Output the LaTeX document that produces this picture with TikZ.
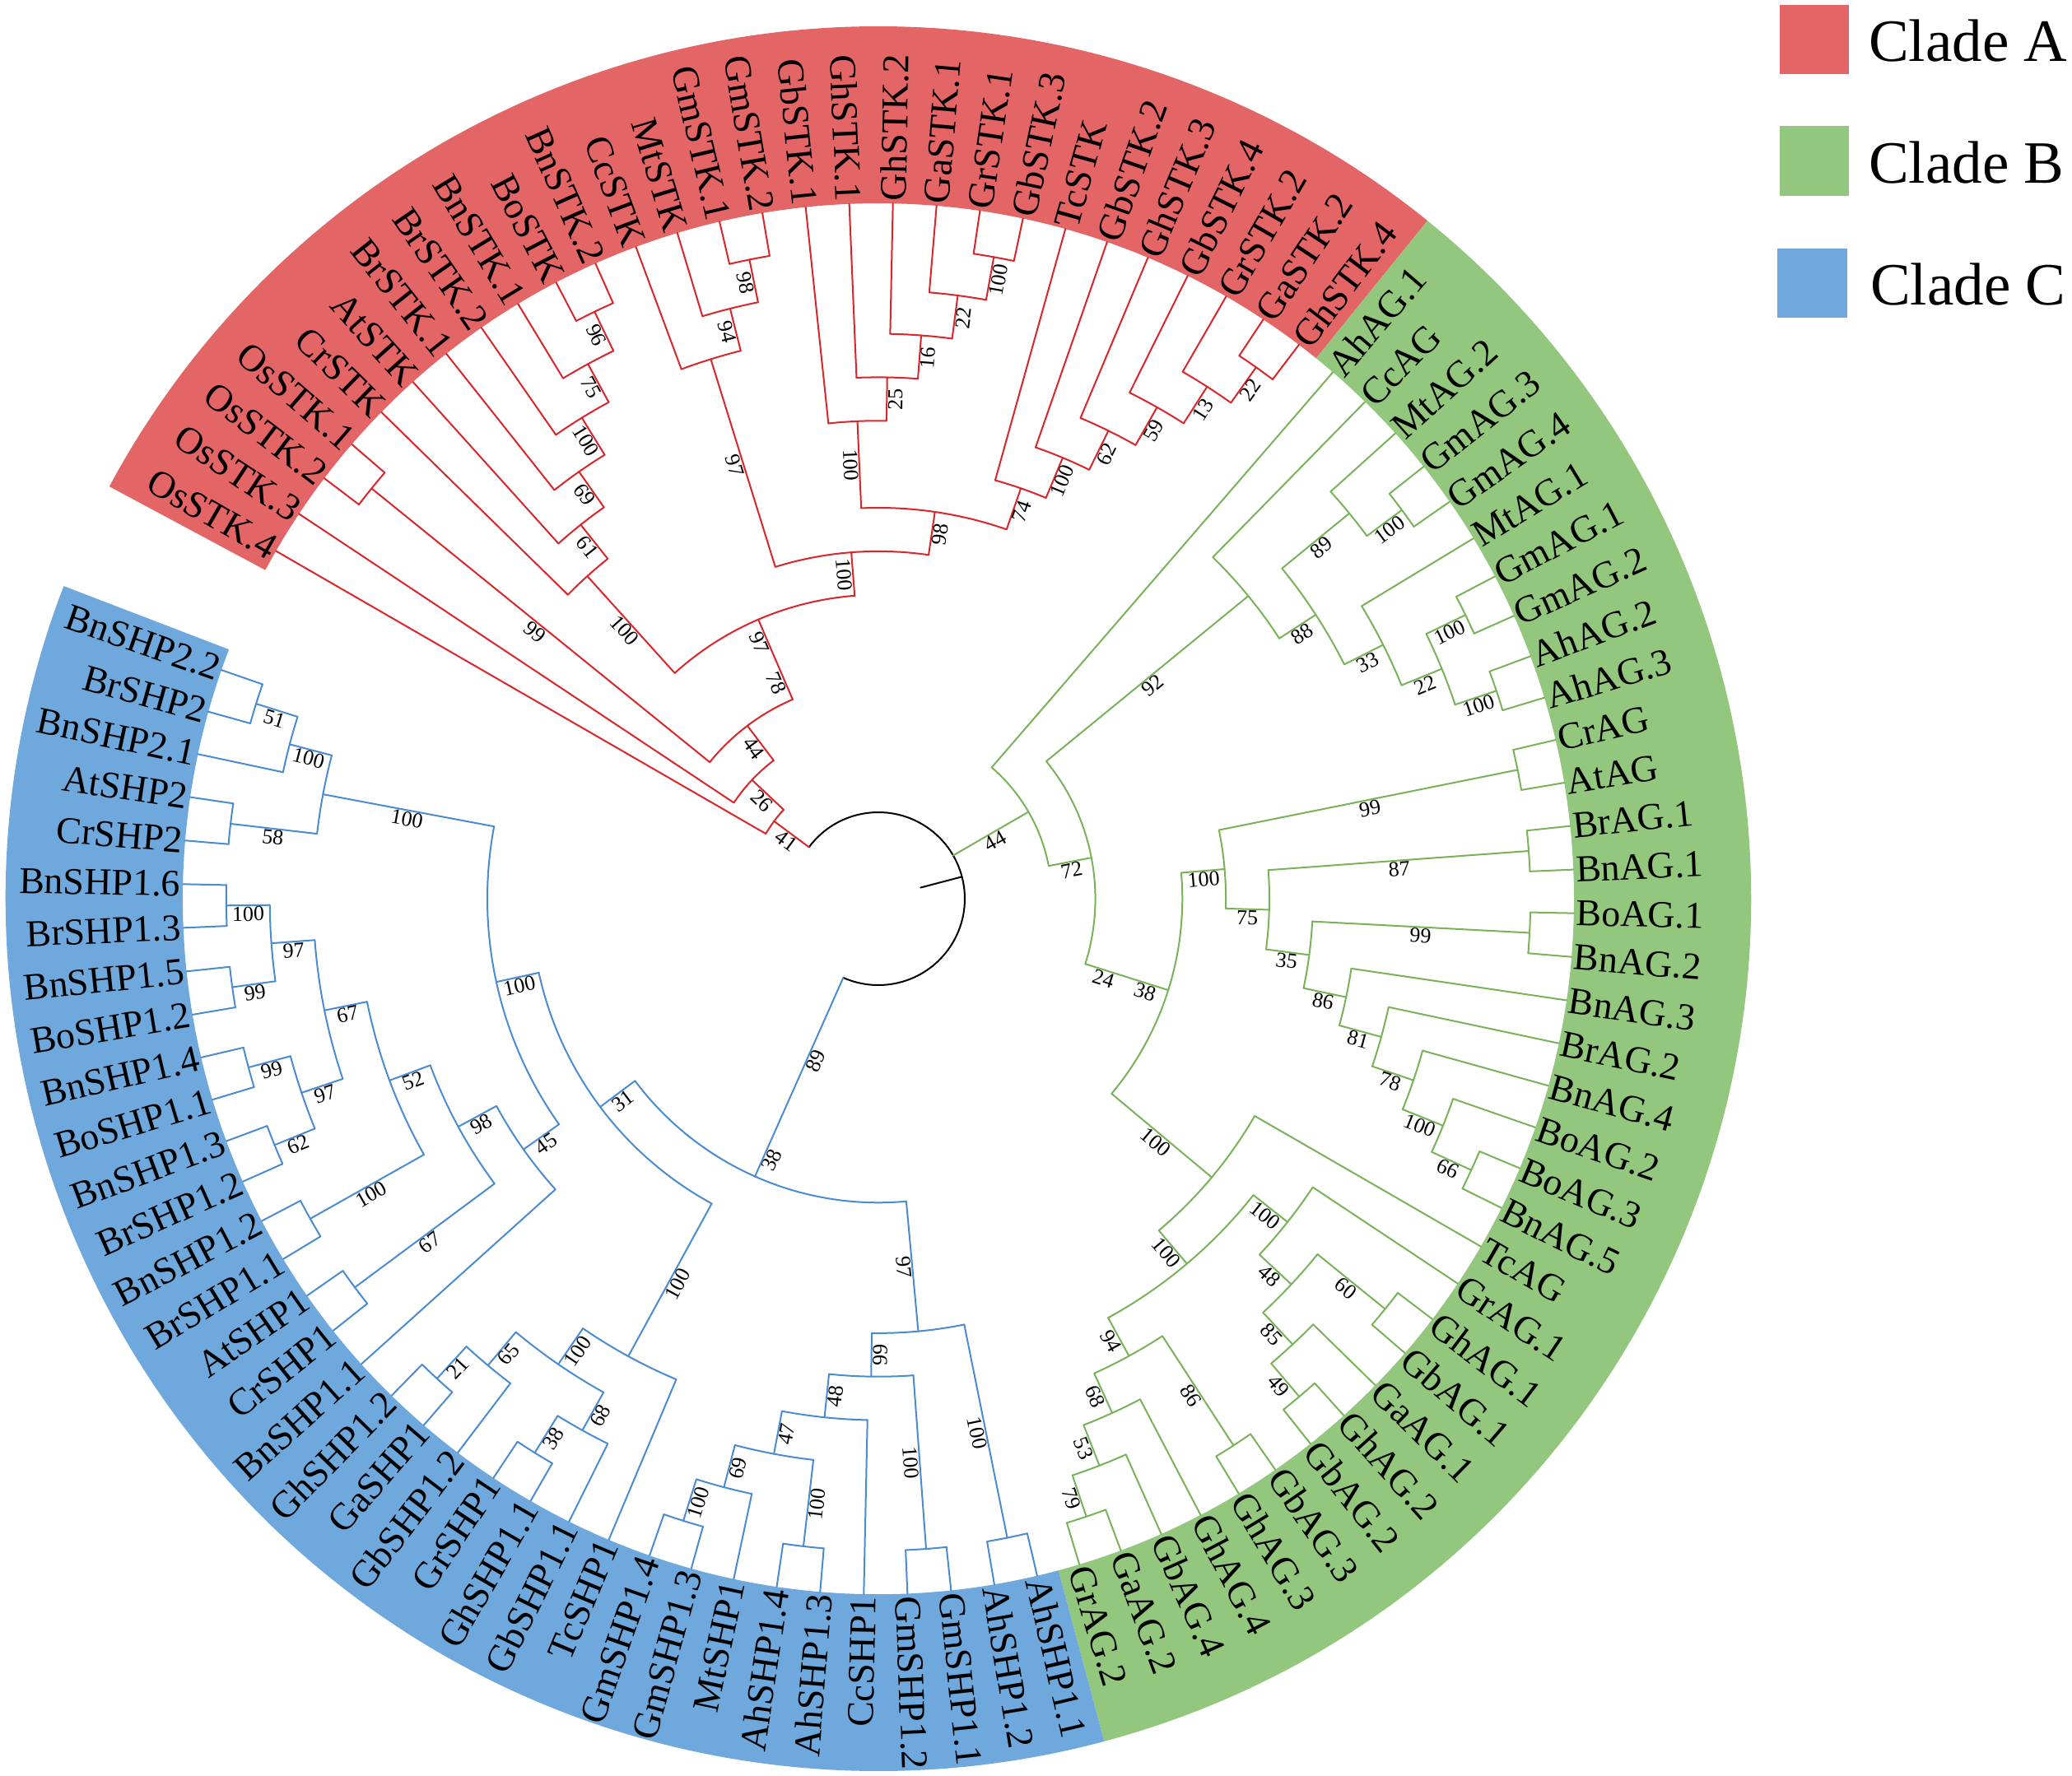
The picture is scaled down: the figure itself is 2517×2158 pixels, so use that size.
\documentclass[tikz,border=0pt]{standalone}
\usepackage{fontspec}
\setmainfont{Liberation Serif}

\definecolor{bandA}{HTML}{E46565}
\definecolor{bandB}{HTML}{93C77D}
\definecolor{bandC}{HTML}{6FA8DC}
\definecolor{lineA}{HTML}{D8262B}
\definecolor{lineB}{HTML}{78B35A}
\definecolor{lineC}{HTML}{4A8CCF}

\tikzset{
  branch/.style={line width=2pt, line cap=round},
  leaflbl/.style={font=\fontsize{46}{50}\selectfont, inner sep=3pt},
  bootlbl/.style={font=\fontsize{26}{28}\selectfont, inner sep=1.5pt},
  legtxt/.style={font=\fontsize{73}{80}\selectfont, inner sep=0pt}
}

% radius of a tree level (root = 0, tips = 14)
\newcommand\levrad[1]{105+52.86*(#1)}
\newcommand\brcol{lineA}
\newcounter{bootno}

% support value beside a stem
\newcommand\bootval[3]{%
  \pgfmathtruncatemacro\lblside{cos(#1)>0}%
  \ifnum\lblside=1 \pgfmathsetmacro\lblrot{#1}\else\pgfmathsetmacro\lblrot{#1+180}\fi
  \stepcounter{bootno}%
  \node[bootlbl, rotate=\lblrot, anchor=north] (bs\thebootno) at (#1:#2) {#3};}

% tip label
\newcommand\leaf[3]{%
  \pgfmathsetmacro\lfang{150-3.6*#2}%
  \expandafter\xdef\csname ang#1\endcsname{\lfang}%
  \expandafter\xdef\csname lev#1\endcsname{14}%
  \expandafter\gdef\csname sup#1\endcsname{}%
  \pgfmathtruncatemacro\lblside{cos(\lfang)>0}%
  \ifnum\lblside=1
    \node[leaflbl, rotate=\lfang, anchor=west] (#1) at (\lfang:845) {#3};%
  \else
    \pgfmathsetmacro\lfrot{\lfang+180}%
    \node[leaflbl, rotate=\lfrot, anchor=east] (#1) at (\lfang:845) {#3};%
  \fi}

% radial stem of a child down to its parent level
\newcommand\stem[2]{%
  \edef\stang{\csname ang#1\endcsname}%
  \pgfmathsetmacro\stin{\levrad{#2}}%
  \pgfmathsetmacro\stout{\levrad{\csname lev#1\endcsname}}%
  \draw[branch, draw=\brcol] (\stang:\stin) -- (\stang:\stout);%
  \edef\sttext{\csname sup#1\endcsname}%
  \ifx\sttext\empty\else
    \pgfmathsetmacro\stmid{(\stin+\stout)/2}%
    \bootval{\stang}{\stmid}{\sttext}%
  \fi}

% internal node: id, child 1, child 2, level, support
\newcommand\clade[5]{%
  \edef\cla{\csname ang#2\endcsname}\edef\clb{\csname ang#3\endcsname}%
  \pgfmathsetmacro\clmid{(\cla+\clb)/2}%
  \expandafter\xdef\csname ang#1\endcsname{\clmid}%
  \expandafter\xdef\csname lev#1\endcsname{#4}%
  \expandafter\gdef\csname sup#1\endcsname{#5}%
  \pgfmathsetmacro\clrad{\levrad{#4}}%
  \draw[branch, draw=\brcol] (\cla:\clrad) arc[start angle=\cla, end angle=\clb, radius=\clrad];%
  \stem{#2}{#4}\stem{#3}{#4}}

% extra support value on a long stem
\newcommand\xlbl[3]{%
  \edef\xang{\csname ang#1\endcsname}%
  \pgfmathsetmacro\xrad{\levrad{#2}}%
  \bootval{\xang}{\xrad}{#3}}

\begin{document}
\begin{tikzpicture}[x=1pt, y=1pt]
  \useasboundingbox (-1067,-1066) rectangle (1450,1092);
  \fill[white] (-1067,-1066) rectangle (1450,1092);

  % clade bands
  \fill[bandA] (151.8:845) arc[start angle=151.8, end angle=51, radius=845]
    -- (51:1060) arc[start angle=51, end angle=151.8, radius=1060] -- cycle;
  \fill[bandB] (51:845) arc[start angle=51, end angle=-75, radius=845]
    -- (-75:1060) arc[start angle=-75, end angle=51, radius=1060] -- cycle;
  \fill[bandC] (-75:845) arc[start angle=-75, end angle=-201, radius=845]
    -- (-201:1060) arc[start angle=-201, end angle=-75, radius=1060] -- cycle;

  % clade A tips
  \leaf{OsSTK4}{0}{OsSTK.4}
  \leaf{OsSTK3}{1}{OsSTK.3}
  \leaf{OsSTK2}{2}{OsSTK.2}
  \leaf{OsSTK1}{3}{OsSTK.1}
  \leaf{CrSTK}{4}{CrSTK}
  \leaf{AtSTK}{5}{AtSTK}
  \leaf{BrSTK1}{6}{BrSTK.1}
  \leaf{BrSTK2}{7}{BrSTK.2}
  \leaf{BnSTK1}{8}{BnSTK.1}
  \leaf{BoSTK}{9}{BoSTK}
  \leaf{BnSTK2}{10}{BnSTK.2}
  \leaf{CcSTK}{11}{CcSTK}
  \leaf{MtSTK}{12}{MtSTK}
  \leaf{GmSTK1}{13}{GmSTK.1}
  \leaf{GmSTK2}{14}{GmSTK.2}
  \leaf{GbSTK1}{15}{GbSTK.1}
  \leaf{GhSTK1}{16}{GhSTK.1}
  \leaf{GhSTK2}{17}{GhSTK.2}
  \leaf{GaSTK1}{18}{GaSTK.1}
  \leaf{GrSTK1}{19}{GrSTK.1}
  \leaf{GbSTK3}{20}{GbSTK.3}
  \leaf{TcSTK}{21}{TcSTK}
  \leaf{GbSTK2}{22}{GbSTK.2}
  \leaf{GhSTK3}{23}{GhSTK.3}
  \leaf{GbSTK4}{24}{GbSTK.4}
  \leaf{GrSTK2}{25}{GrSTK.2}
  \leaf{GaSTK2}{26}{GaSTK.2}
  \leaf{GhSTK4}{27}{GhSTK.4}

  % clade B tips
  \leaf{AhAG1}{28}{AhAG.1}
  \leaf{CcAG}{29}{CcAG}
  \leaf{MtAG2}{30}{MtAG.2}
  \leaf{GmAG3}{31}{GmAG.3}
  \leaf{GmAG4}{32}{GmAG.4}
  \leaf{MtAG1}{33}{MtAG.1}
  \leaf{GmAG1}{34}{GmAG.1}
  \leaf{GmAG2}{35}{GmAG.2}
  \leaf{AhAG2}{36}{AhAG.2}
  \leaf{AhAG3}{37}{AhAG.3}
  \leaf{CrAG}{38}{CrAG}
  \leaf{AtAG}{39}{AtAG}
  \leaf{BrAG1}{40}{BrAG.1}
  \leaf{BnAG1}{41}{BnAG.1}
  \leaf{BoAG1}{42}{BoAG.1}
  \leaf{BnAG2}{43}{BnAG.2}
  \leaf{BnAG3}{44}{BnAG.3}
  \leaf{BrAG2}{45}{BrAG.2}
  \leaf{BnAG4}{46}{BnAG.4}
  \leaf{BoAG2}{47}{BoAG.2}
  \leaf{BoAG3}{48}{BoAG.3}
  \leaf{BnAG5}{49}{BnAG.5}
  \leaf{TcAG}{50}{TcAG}
  \leaf{GrAG1}{51}{GrAG.1}
  \leaf{GhAG1}{52}{GhAG.1}
  \leaf{GbAG1}{53}{GbAG.1}
  \leaf{GaAG1}{54}{GaAG.1}
  \leaf{GhAG2}{55}{GhAG.2}
  \leaf{GbAG2}{56}{GbAG.2}
  \leaf{GbAG3}{57}{GbAG.3}
  \leaf{GhAG3}{58}{GhAG.3}
  \leaf{GhAG4}{59}{GhAG.4}
  \leaf{GbAG4}{60}{GbAG.4}
  \leaf{GaAG2}{61}{GaAG.2}
  \leaf{GrAG2}{62}{GrAG.2}

  % clade C tips
  \leaf{AhSHP11}{63}{AhSHP1.1}
  \leaf{AhSHP12}{64}{AhSHP1.2}
  \leaf{GmSHP11}{65}{GmSHP1.1}
  \leaf{GmSHP12}{66}{GmSHP1.2}
  \leaf{CcSHP1}{67}{CcSHP1}
  \leaf{AhSHP13}{68}{AhSHP1.3}
  \leaf{AhSHP14}{69}{AhSHP1.4}
  \leaf{MtSHP1}{70}{MtSHP1}
  \leaf{GmSHP13}{71}{GmSHP1.3}
  \leaf{GmSHP14}{72}{GmSHP1.4}
  \leaf{TcSHP1}{73}{TcSHP1}
  \leaf{GbSHP11}{74}{GbSHP1.1}
  \leaf{GhSHP11}{75}{GhSHP1.1}
  \leaf{GrSHP1}{76}{GrSHP1}
  \leaf{GbSHP12}{77}{GbSHP1.2}
  \leaf{GaSHP1}{78}{GaSHP1}
  \leaf{GhSHP12}{79}{GhSHP1.2}
  \leaf{BnSHP11}{80}{BnSHP1.1}
  \leaf{CrSHP1}{81}{CrSHP1}
  \leaf{AtSHP1}{82}{AtSHP1}
  \leaf{BrSHP11}{83}{BrSHP1.1}
  \leaf{BnSHP12}{84}{BnSHP1.2}
  \leaf{BrSHP12}{85}{BrSHP1.2}
  \leaf{BnSHP13}{86}{BnSHP1.3}
  \leaf{BoSHP11}{87}{BoSHP1.1}
  \leaf{BnSHP14}{88}{BnSHP1.4}
  \leaf{BoSHP12}{89}{BoSHP1.2}
  \leaf{BnSHP15}{90}{BnSHP1.5}
  \leaf{BrSHP13}{91}{BrSHP1.3}
  \leaf{BnSHP16}{92}{BnSHP1.6}
  \leaf{CrSHP2}{93}{CrSHP2}
  \leaf{AtSHP2}{94}{AtSHP2}
  \leaf{BnSHP21}{95}{BnSHP2.1}
  \leaf{BrSHP2}{96}{BrSHP2}
  \leaf{BnSHP22}{97}{BnSHP2.2}

  % clade A branches
  \renewcommand\brcol{lineA}
  \clade{n1}{GmSTK1}{GmSTK2}{13}{98}
  \clade{n2}{MtSTK}{n1}{12}{94}
  \clade{n3}{CcSTK}{n2}{11}{97}
  \clade{c1}{GrSTK1}{GbSTK3}{13}{100}
  \clade{c2}{GaSTK1}{c1}{12}{22}
  \clade{c3}{GhSTK2}{c2}{11}{16}
  \clade{c4}{GhSTK1}{c3}{10}{25}
  \clade{c5}{GbSTK1}{c4}{9}{100}
  \clade{e1}{GaSTK2}{GhSTK4}{13}{22}
  \clade{e2}{GrSTK2}{e1}{12}{13}
  \clade{e3}{GbSTK4}{e2}{11}{59}
  \clade{e4}{GhSTK3}{e3}{10}{62}
  \clade{e5}{GbSTK2}{e4}{9}{100}
  \clade{e6}{TcSTK}{e5}{8}{74}
  \clade{ny}{c5}{e6}{7}{98}
  \clade{nx}{n3}{ny}{6}{100}
  \clade{b1}{BoSTK}{BnSTK2}{13}{96}
  \clade{b2}{BnSTK1}{b1}{12}{75}
  \clade{b3}{BrSTK2}{b2}{11}{100}
  \clade{b4}{BrSTK1}{b3}{10}{69}
  \clade{b5}{AtSTK}{b4}{9}{61}
  \clade{b6}{CrSTK}{b5}{8}{100}
  \clade{np}{b6}{nx}{5}{}
  \clade{a3}{OsSTK2}{OsSTK1}{13}{99}
  \clade{a2}{a3}{np}{3}{44}
  \xlbl{np}{3.5}{78}
  \xlbl{np}{4.5}{97}
  \clade{a1}{OsSTK3}{a2}{2}{26}
  \clade{a0}{OsSTK4}{a1}{1}{41}

  % clade B branches
  \renewcommand\brcol{lineB}
  \clade{g5}{GmAG3}{GmAG4}{13}{100}
  \clade{g6}{MtAG2}{g5}{12}{89}
  \clade{g9}{GmAG1}{GmAG2}{13}{100}
  \clade{g10}{AhAG2}{AhAG3}{13}{100}
  \clade{g11}{g9}{g10}{12}{22}
  \clade{g8}{MtAG1}{g11}{11}{33}
  \clade{g7}{g6}{g8}{10}{88}
  \clade{g2}{CcAG}{g7}{9}{92}
  \clade{g14}{CrAG}{AtAG}{13}{99}
  \clade{g16}{BrAG1}{BnAG1}{13}{87}
  \clade{g18}{BoAG1}{BnAG2}{13}{99}
  \clade{g21}{BoAG3}{BnAG5}{13}{66}
  \clade{q5}{BoAG2}{g21}{12}{100}
  \clade{q4}{BnAG4}{q5}{11}{78}
  \clade{q3}{BrAG2}{q4}{10}{81}
  \clade{q2}{BnAG3}{q3}{9}{86}
  \clade{q1}{g18}{q2}{8}{35}
  \clade{g15}{g16}{q1}{7}{75}
  \clade{g12}{g14}{g15}{6}{100}
  \clade{r2}{GhAG1}{GbAG1}{13}{60}
  \clade{r4}{GhAG2}{GbAG2}{13}{49}
  \clade{r3}{GaAG1}{r4}{12}{85}
  \clade{r1}{r2}{r3}{11}{48}
  \clade{g23}{GrAG1}{r1}{10}{100}
  \clade{s1}{GbAG3}{GhAG3}{13}{86}
  \clade{s4}{GaAG2}{GrAG2}{13}{79}
  \clade{s3}{GbAG4}{s4}{12}{53}
  \clade{s2}{GhAG4}{s3}{11}{68}
  \clade{g24}{s1}{s2}{10}{94}
  \clade{g22}{g23}{g24}{9}{100}
  \clade{g13}{TcAG}{g22}{8}{100}
  \clade{g3}{g12}{g13}{5}{}
  \clade{g1}{g2}{g3}{3}{72}
  \xlbl{g3}{3.5}{24}
  \xlbl{g3}{4.5}{38}
  \clade{g0}{AhAG1}{g1}{2}{44}

  % clade C branches
  \renewcommand\brcol{lineC}
  \clade{k16}{GhSHP11}{GrSHP1}{13}{38}
  \clade{k15}{GbSHP11}{k16}{12}{68}
  \clade{k17}{GaSHP1}{GhSHP12}{13}{21}
  \clade{k14}{GbSHP12}{k17}{12}{65}
  \clade{k13}{k15}{k14}{11}{100}
  \clade{k12}{TcSHP1}{k13}{10}{100}
  \clade{m1}{BrSHP13}{BnSHP16}{13}{100}
  \clade{m2}{BoSHP12}{BnSHP15}{13}{99}
  \clade{m6}{m2}{m1}{12}{97}
  \clade{m3}{BoSHP11}{BnSHP14}{13}{99}
  \clade{m4}{BrSHP12}{BnSHP13}{13}{62}
  \clade{m5}{m4}{m3}{12}{97}
  \clade{m7}{m5}{m6}{11}{67}
  \clade{m8}{BrSHP11}{BnSHP12}{13}{100}
  \clade{m9}{m8}{m7}{10}{52}
  \clade{m10}{CrSHP1}{AtSHP1}{13}{67}
  \clade{m11}{m10}{m9}{9}{98}
  \clade{l5}{BnSHP11}{m11}{8}{45}
  \clade{l1}{BrSHP2}{BnSHP22}{13}{51}
  \clade{l2}{BnSHP21}{l1}{12}{100}
  \clade{l3}{CrSHP2}{AtSHP2}{13}{58}
  \clade{l4}{l3}{l2}{11}{100}
  \clade{k11}{l5}{l4}{7}{100}
  \clade{k1}{k11}{k12}{6}{31}
  \clade{k4}{AhSHP11}{AhSHP12}{13}{100}
  \clade{k6}{GmSHP11}{GmSHP12}{13}{100}
  \clade{k8}{AhSHP13}{AhSHP14}{13}{100}
  \clade{k10}{GmSHP13}{GmSHP14}{13}{100}
  \clade{k9}{MtSHP1}{k10}{12}{69}
  \clade{k7}{k8}{k9}{11}{47}
  \clade{k5}{CcSHP1}{k7}{10}{48}
  \clade{k3}{k5}{k6}{9}{99}
  \clade{k2}{k3}{k4}{8}{97}
  \clade{k0}{k1}{k2}{5}{}
  \xlbl{k0}{2}{89}
  \xlbl{k0}{4.5}{38}

  % root
  \pgfmathsetmacro\rootA{\csname anga0\endcsname}
  \pgfmathsetmacro\rootC{\csname angk0\endcsname}
  \pgfmathsetmacro\rootM{(\rootA+\rootC)/2}
  \draw[branch] (\rootA:105) arc[start angle=\rootA, end angle=\rootC, radius=105];
  \draw[branch] (\rootM:53) -- (\rootM:105);
  \renewcommand\brcol{lineA}\stem{a0}{0}
  \renewcommand\brcol{lineB}\stem{g0}{0}
  \renewcommand\brcol{lineC}\stem{k0}{0}

  % legend
  \fill[bandA] (1095,1002) rectangle (1179,1086);
  \node[legtxt, anchor=west] (legA) at (1203,1042) {Clade A};
  \fill[bandB] (1095,854) rectangle (1179,939);
  \node[legtxt, anchor=west] (legB) at (1203,894) {Clade B};
  \fill[bandC] (1092,706) rectangle (1177,790);
  \node[legtxt, anchor=west] (legC) at (1205,746) {Clade C};
\end{tikzpicture}
\end{document}
